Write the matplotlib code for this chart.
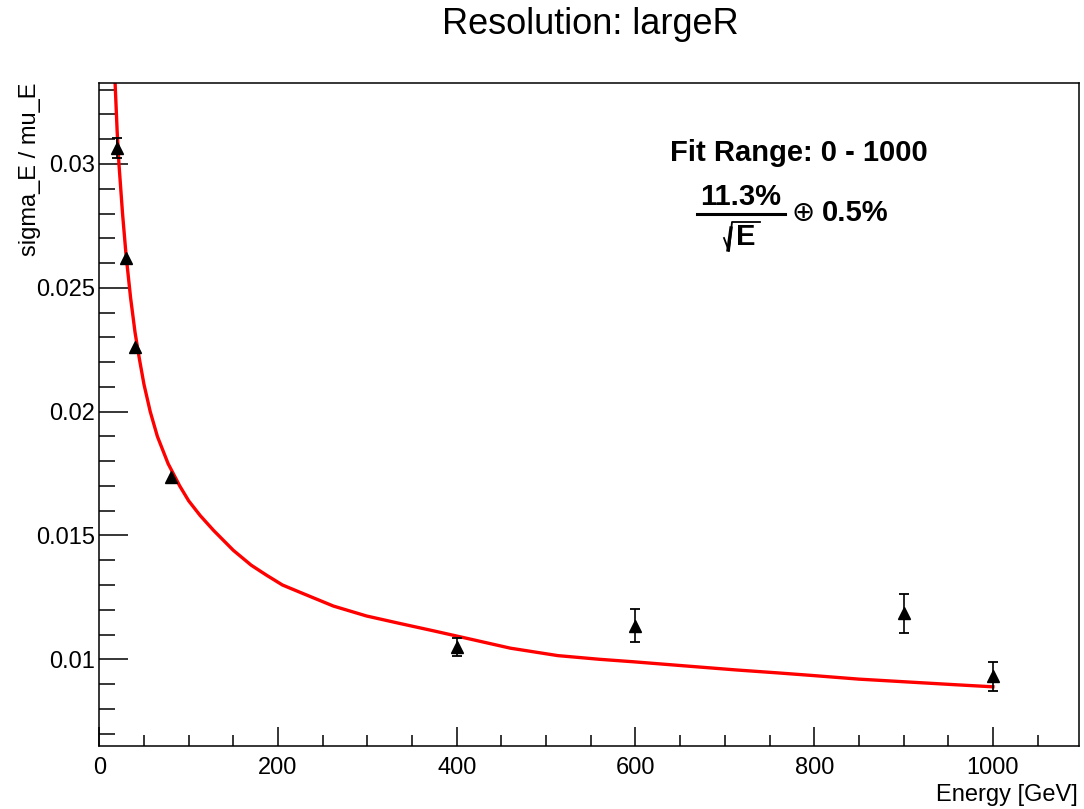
import matplotlib
matplotlib.use('Agg')
import matplotlib.pyplot as plt
from matplotlib.ticker import MultipleLocator, FuncFormatter

# measured resolution per beam energy
energy = [20, 30, 40, 80, 400, 600, 900, 1000]
resolution = [0.03065, 0.02621, 0.02262, 0.01738, 0.01050, 0.01135, 0.01185, 0.00931]
res_error = [0.0004, 0.00005, 0.00005, 0.00005, 0.00038, 0.00067, 0.0008, 0.0006]

# fitted resolution curve
fit_energy = [15, 18, 20, 22, 26, 30, 35, 40, 45, 50, 57, 65, 77, 90, 100, 113, 128,
              150, 170, 187, 205, 225, 262, 299, 336, 374, 411, 460, 513, 560, 598,
              650, 713, 760, 797, 850, 912, 960, 1000]
fit_value = [0.0356, 0.0330, 0.0313, 0.0300, 0.0280, 0.0263, 0.0246, 0.0232, 0.0221,
             0.0211, 0.0200, 0.0190, 0.0179, 0.0170, 0.0164, 0.0158, 0.0152,
             0.0144, 0.0138, 0.0134, 0.0130, 0.0127, 0.01215, 0.01175, 0.01145,
             0.01115, 0.01085, 0.01045, 0.01015, 0.01000, 0.00990, 0.00975,
             0.00957, 0.00945, 0.00935, 0.00920, 0.00907, 0.00897, 0.00889]

title = 'Resolution: largeR'
fit_range = 'Fit Range: 0 - 1000'
stoch_term = '11.3%'
const_term = '0.5%'

plt.rcParams['font.family'] = ['Liberation Sans', 'DejaVu Sans']

W, H = 1084, 809
fig = plt.figure(figsize=(W / 100, H / 100), dpi=100)
ax = fig.add_axes([99.3 / W, 1 - 746 / H, (1078.7 - 99.3) / W, (746 - 83) / H])


def px(x, y):
    return x / W, 1 - y / H


ax.plot(fit_energy, fit_value, color='#ff0000', lw=2.4, zorder=2)

# error bars hidden inside the marker are not drawn (as ROOT does)
big = [i for i, e in enumerate(res_error) if e > 0.0002]
ax.errorbar([energy[i] for i in big], [resolution[i] for i in big],
            yerr=[res_error[i] for i in big], fmt='none', ecolor='black',
            elinewidth=1.2, capsize=3.3, capthick=1.3, zorder=3)
ax.plot(energy, resolution, '^', color='black', ms=8, zorder=4)

ax.set_xlim(0, 1096)
ax.set_ylim(0.0065, 0.03327)

ax.xaxis.set_major_locator(MultipleLocator(200))
ax.xaxis.set_minor_locator(MultipleLocator(50))
ax.yaxis.set_major_locator(MultipleLocator(0.005))
ax.yaxis.set_minor_locator(MultipleLocator(0.001))
ax.yaxis.set_major_formatter(FuncFormatter(lambda v, p: '%g' % round(v, 4)))
ax.xaxis.set_major_formatter(FuncFormatter(lambda v, p: '%d' % v))

ax.tick_params(axis='x', which='major', direction='in', length=13.5, width=1.1,
               labelsize=17, pad=8, top=False)
ax.tick_params(axis='x', which='minor', direction='in', length=8, width=1.1, top=False)
ax.tick_params(axis='y', which='major', direction='in', length=21, width=1.1,
               labelsize=17, pad=3, right=False)
ax.tick_params(axis='y', which='minor', direction='in', length=11.5, width=1.1, right=False)
for sp in ax.spines.values():
    sp.set_linewidth(1.1)

fig.text(*px(590, 24), title, fontsize=26, ha='center', va='center')
fig.text(*px(1078, 795), 'Energy [GeV]', fontsize=17, ha='right', va='center')
fig.text(*px(30, 83), 'sigma_E / mu_E', fontsize=17, rotation=90, ha='center', va='top')

# fit annotation: stochastic term over sqrt(E), plus constant term
fig.text(*px(799, 153), fit_range, fontsize=21, fontweight='bold', ha='center', va='center')
fig.text(*px(741, 197), stoch_term, fontsize=21, fontweight='bold', ha='center', va='center')
fig.add_artist(plt.Line2D([697 / W, 785 / W], [1 - 214 / H, 1 - 214 / H],
                          color='black', lw=2.2))
fig.text(*px(746, 237), 'E', fontsize=21, fontweight='bold', ha='center', va='center')
rad_x = [724, 729, 732, 760]
rad_y = [238, 251, 222, 222]
fig.add_artist(plt.Line2D([v / W for v in rad_x], [1 - v / H for v in rad_y],
                          color='black', lw=1.3))
fig.add_artist(plt.Line2D([728 / W, 731 / W], [1 - 250 / H, 1 - 228 / H],
                          color='black', lw=2.4))
fig.text(*px(792, 213), '\u2295', fontsize=20, ha='left', va='center',
         family=['DejaVu Sans'])
fig.text(*px(822, 213), const_term, fontsize=21, fontweight='bold', ha='left', va='center')

fig.savefig('out.png', dpi=100)
